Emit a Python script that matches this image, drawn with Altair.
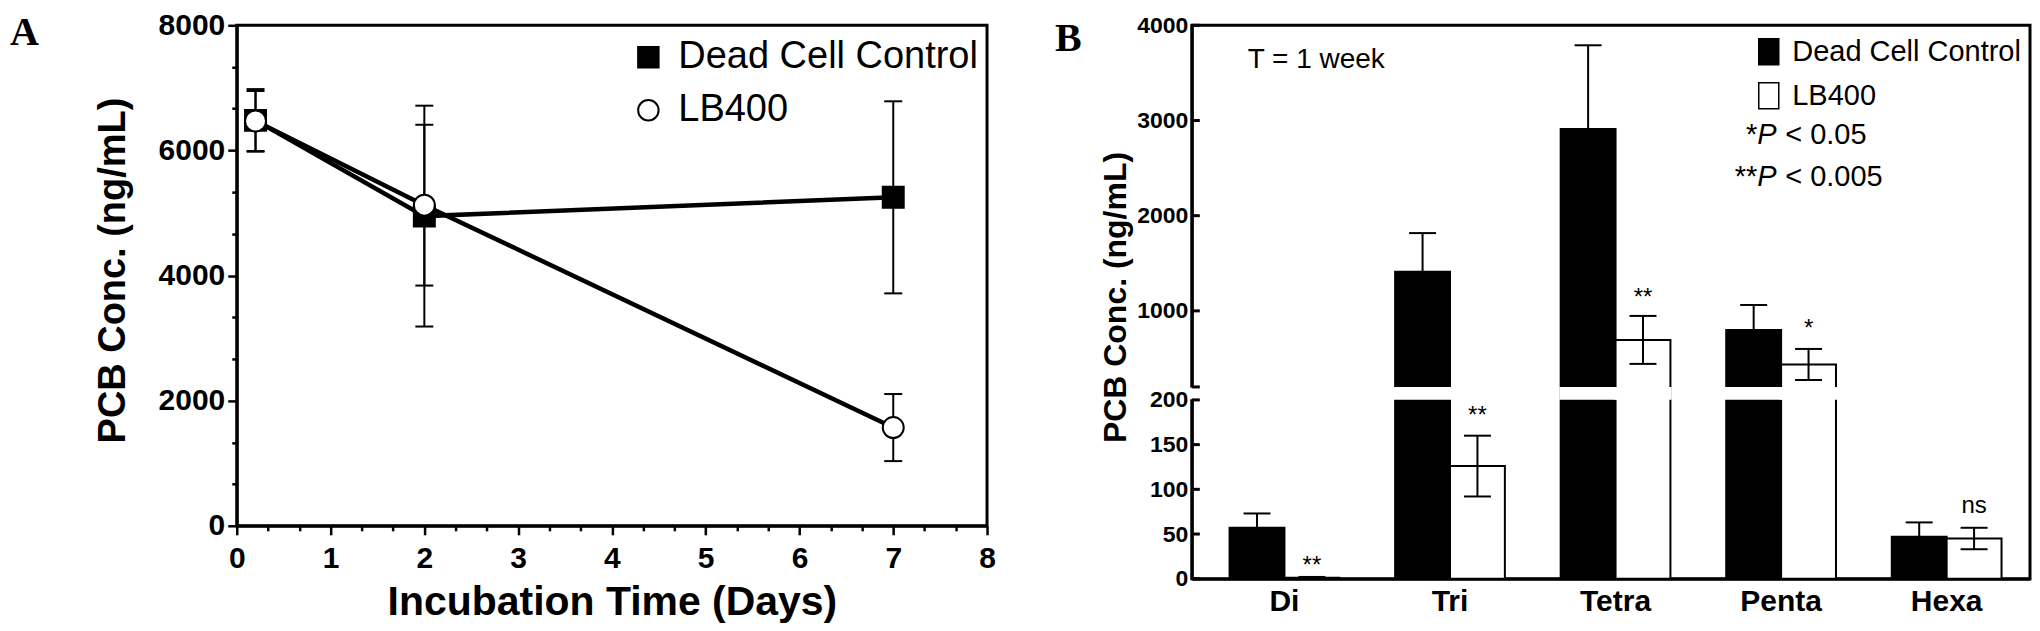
import altair as alt
import pandas as pd

FONT = "Liberation Sans"
SERIF = "Liberation Serif"

# ---------------- Panel A data ----------------
series_names = ["Dead Cell Control", "LB400"]
days = [0.2, 2, 7]
dcc_conc = [6480, 4950, 5250]
dcc_sd = [500, 1765, 1535]
lb_conc = [6470, 5125, 1570]
lb_sd = [480, 1285, 536]
x_major_ticks = [0, 1, 2, 3, 4, 5, 6, 7, 8]
y_major_ticks = [0, 2000, 4000, 6000, 8000]

# ---------------- Panel B data ----------------
congeners = ["Di", "Tri", "Tetra", "Penta", "Hexa"]
dcc_b = [57, 1410, 2910, 800, 47]
dcc_b_sd = [16, 407, 880, 262, 16]
lb_b = [1, 126, 695, 437, 45]
lb_b_sd = [1, 34, 252, 163, 12]
sig_text = ["**", "**", "**", "*", "ns"]
sig_level = [6, 174, 1062, 737, 73]
yb_ticks = [0, 50, 100, 150, 200, 1000, 2000, 3000, 4000]
BREAK_LO, BREAK_HI = 200, 201

# ---------------- tables ----------------
rowsA = []
for s, means, sds in [(series_names[0], dcc_conc, dcc_sd), (series_names[1], lb_conc, lb_sd)]:
    for d, m, sd in zip(days, means, sds):
        rowsA.append({"day": d, "series": s, "conc": m, "lo": m - sd, "hi": m + sd})
dfA = pd.DataFrame(rowsA)

rowsB = []
for s, means, sds in [(series_names[0], dcc_b, dcc_b_sd), (series_names[1], lb_b, lb_b_sd)]:
    for c, m, sd in zip(congeners, means, sds):
        rowsB.append({"cong": c, "series": s, "conc": m, "lo": max(m - sd, 0), "hi": m + sd})
dfB = pd.DataFrame(rowsB)
dfSig = pd.DataFrame({"cong": congeners, "series": [series_names[1]] * len(congeners),
                      "label": sig_text, "level": sig_level})
dfTicksB = pd.DataFrame({"v": yb_ticks + [BREAK_HI]})
dfBreak = pd.DataFrame({"b0": [BREAK_LO + 0.05], "b1": [BREAK_HI - 0.05]})


def note(text, x, y, size, align="left", style="normal", weight="normal", font=FONT):
    return alt.Chart(pd.DataFrame({"t": [text]})).mark_text(
        font=font, fontSize=size, fontStyle=style, fontWeight=weight,
        align=align, baseline="alphabetic", color="black"
    ).encode(x=alt.value(x), y=alt.value(y), text="t:N")


# ================= Panel A =================
WA, HA = 751, 501
xsA = alt.Scale(domain=[0, 8], nice=False, zero=False)
ysA = alt.Scale(domain=[0, 8000], nice=False, zero=False)
minor_x = [i / 3 for i in range(1, 24) if i % 3]
minor_y = [i * 2000 / 3 for i in range(1, 12) if i % 3]

xA_major = alt.Axis(orient="bottom", values=x_major_ticks, format="d", labelFont=FONT,
                    labelFontWeight="bold", labelFontSize=30, labelColor="black", labelPadding=9,
                    labelFlush=False, tickSize=9, tickWidth=2.5, tickColor="black", domainWidth=3,
                    domainColor="black", grid=False, title="Incubation Time (Days)", titleFont=FONT,
                    titleFontWeight="bold", titleFontSize=41, titleColor="black",
                    titleBaseline="alphabetic", titleY=89)
xA_minor = alt.Axis(orient="bottom", values=minor_x, labels=False, domain=False, tickSize=5,
                    tickWidth=2.5, tickColor="black", grid=False, title=None)
yA_major = alt.Axis(orient="left", values=y_major_ticks, format="d", labelFont=FONT,
                    labelFontWeight="bold", labelFontSize=30, labelColor="black", labelPadding=3,
                    labelFlush=False, tickSize=9, tickWidth=2.5, tickColor="black", domainWidth=3,
                    domainColor="black", grid=False, title="PCB Conc. (ng/mL)", titleFont=FONT,
                    titleFontWeight="bold", titleFontSize=38, titleColor="black",
                    titleBaseline="alphabetic", titleAngle=270, titleX=-112, titleY=245)
yA_minor = alt.Axis(orient="left", values=minor_y, labels=False, domain=False, tickSize=5,
                    tickWidth=2.5, tickColor="black", grid=False, title=None)

legA = alt.Legend(orient="none", legendX=393, legendY=13, title=None, labelFont=FONT,
                  labelFontSize=38, labelColor="black", labelLimit=0, symbolSize=420,
                  symbolStrokeWidth=2, symbolStrokeColor="black", rowPadding=15, labelOffset=11,
                  padding=0)

baseA = alt.Chart(dfA)
errA = baseA.mark_rule(color="black", strokeWidth=2).encode(
    x=alt.X("day:Q", scale=xsA, axis=xA_minor),
    y=alt.Y("lo:Q", scale=ysA, axis=yA_minor),
    y2="hi:Q",
)
capLoA = baseA.mark_tick(orient="horizontal", color="black", size=18, thickness=2, opacity=1).encode(
    x=alt.X("day:Q", scale=xsA, axis=None), y=alt.Y("lo:Q", scale=ysA, axis=None))
capHiA = baseA.mark_tick(orient="horizontal", color="black", size=18, thickness=2, opacity=1).encode(
    x=alt.X("day:Q", scale=xsA, axis=None), y=alt.Y("hi:Q", scale=ysA, axis=None))
linesA = baseA.mark_line(color="black", strokeWidth=4.5).encode(
    x=alt.X("day:Q", scale=xsA, axis=None),
    y=alt.Y("conc:Q", scale=ysA, axis=None),
    detail="series:N",
    order="day:Q",
)
pointsA = baseA.mark_point(filled=False, size=440, strokeWidth=2, opacity=1).encode(
    x=alt.X("day:Q", scale=xsA, axis=xA_major),
    y=alt.Y("conc:Q", scale=ysA, axis=yA_major),
    shape=alt.Shape("series:N", scale=alt.Scale(domain=series_names, range=["square", "circle"]), legend=legA),
    fill=alt.Fill("series:N", scale=alt.Scale(domain=series_names, range=["black", "white"]), legend=legA),
    stroke=alt.Stroke("series:N", scale=alt.Scale(domain=series_names, range=["black", "black"]), legend=legA),
)
labelA = note("A", -227, 20, 40, weight="bold", font=SERIF)

panelA = alt.layer(errA, capLoA, capHiA, linesA, pointsA, labelA).resolve_axis(
    x="independent", y="independent").properties(width=WA, height=HA)

# ================= Panel B =================
WB, HB = 839, 554
ysB = alt.Scale(domain=[0, BREAK_LO, BREAK_HI, 4000], range=[HB, HB - 179, HB - 192, 0],
                nice=False, zero=False)
xsB = alt.Scale(domain=congeners, paddingInner=0.337, paddingOuter=0.2, align=0.57)
xoB = alt.Scale(domain=series_names, paddingInner=0, paddingOuter=0)

xB_axis = alt.Axis(orient="bottom", labelFont=FONT, labelFontWeight="bold", labelFontSize=30,
                   labelColor="black", labelPadding=8, labelAngle=0, ticks=False, tickSize=0,
                   domainColor="black", domainWidth=3, grid=False, title=None)
yB_axis = alt.Axis(orient="left", values=yb_ticks + [BREAK_HI], format="d",
                   labelExpr=f"datum.value == {BREAK_HI} ? '' : datum.label",
                   labelFont=FONT, labelFontWeight="bold", labelFontSize=23, labelColor="black",
                   labelPadding=4, labelOverlap=False, labelFlush=False, ticks=False, tickSize=0,
                   domainColor="black", domainWidth=3, grid=False, title="PCB Conc. (ng/mL)",
                   titleFont=FONT, titleFontWeight="bold", titleFontSize=32, titleColor="black",
                   titleBaseline="alphabetic", titleAngle=270, titleX=-66, titleY=272)

legB = alt.Legend(orient="none", legendX=563, legendY=12, title=None, labelFont=FONT,
                  labelFontSize=29, labelColor="black", labelLimit=0, symbolSize=676,
                  symbolType="M-0.77,-1L0.77,-1L0.77,1L-0.77,1Z", symbolStrokeWidth=1.5,
                  symbolStrokeColor="black", rowPadding=11, labelOffset=9, padding=0)

xEnc = alt.X("cong:N", scale=xsB, axis=None, sort=congeners)
xoEnc = alt.XOffset("series:N", scale=xoB)

bars = alt.Chart(dfB).mark_bar(stroke="black", strokeWidth=2, opacity=1).encode(
    x=alt.X("cong:N", scale=xsB, axis=xB_axis, sort=congeners),
    xOffset=xoEnc,
    y=alt.Y("conc:Q", scale=ysB, axis=yB_axis),
    fill=alt.Fill("series:N", scale=alt.Scale(domain=series_names, range=["black", "white"]), legend=legB),
)
gap = alt.Chart(dfB).transform_filter(f"datum.conc > {BREAK_LO}").transform_calculate(
    g0=f"{BREAK_LO} + 0.1", g1=f"{BREAK_HI} - 0.1"
).mark_rect(fill="white", stroke="white", strokeWidth=2.5).encode(
    x=xEnc, xOffset=xoEnc,
    y=alt.Y("g0:Q", scale=ysB, axis=None),
    y2="g1:Q",
)
axis_gap = alt.Chart(dfBreak).mark_rule(color="white", strokeWidth=8).encode(
    x=alt.value(0),
    y=alt.Y("b0:Q", scale=ysB, axis=None),
    y2="b1:Q",
)
ticksB = alt.Chart(dfTicksB).mark_tick(orient="horizontal", size=8, thickness=3, color="black", opacity=1).encode(
    x=alt.value(4), y=alt.Y("v:Q", scale=ysB, axis=None))
errB = alt.Chart(dfB).mark_rule(color="black", strokeWidth=2).encode(
    x=xEnc, xOffset=xoEnc, y=alt.Y("lo:Q", scale=ysB, axis=None), y2="hi:Q")
capLoB = alt.Chart(dfB).mark_tick(orient="horizontal", color="black", size=27, thickness=2, opacity=1).encode(
    x=xEnc, xOffset=xoEnc, y=alt.Y("lo:Q", scale=ysB, axis=None))
capHiB = alt.Chart(dfB).mark_tick(orient="horizontal", color="black", size=27, thickness=2, opacity=1).encode(
    x=xEnc, xOffset=xoEnc, y=alt.Y("hi:Q", scale=ysB, axis=None))
sig = alt.Chart(dfSig).mark_text(font=FONT, fontSize=24, color="black", baseline="alphabetic").encode(
    x=xEnc, xOffset=xoEnc, y=alt.Y("level:Q", scale=ysB, axis=None), text="label:N")

notesB = [
    note("B", -137, 26, 40, weight="bold", font=SERIF),
    note("T = 1 week", 56, 43, 28),
    note("*", 566, 119, 29, align="right"),
    note("P", 566, 119, 29, style="italic"),
    note("< 0.05", 594, 119, 29),
    note("**", 566, 161, 29, align="right"),
    note("P", 566, 161, 29, style="italic"),
    note("< 0.005", 594, 161, 29),
]

panelB = alt.layer(bars, gap, axis_gap, ticksB, errB, capLoB, capHiB, sig, *notesB).resolve_axis(
    x="independent", y="independent").properties(width=WB, height=HB)

chart = alt.hconcat(panelA, panelB, spacing=205, bounds="flush").resolve_scale(
    fill="independent", shape="independent", stroke="independent"
).resolve_legend(
    fill="independent", shape="independent", stroke="independent"
).properties(
    padding={"left": 0, "top": 0, "right": 0, "bottom": 0}
).configure_view(stroke="black", strokeWidth=3)

chart.save("out.html", embed_options={"renderer": "svg", "actions": False})
